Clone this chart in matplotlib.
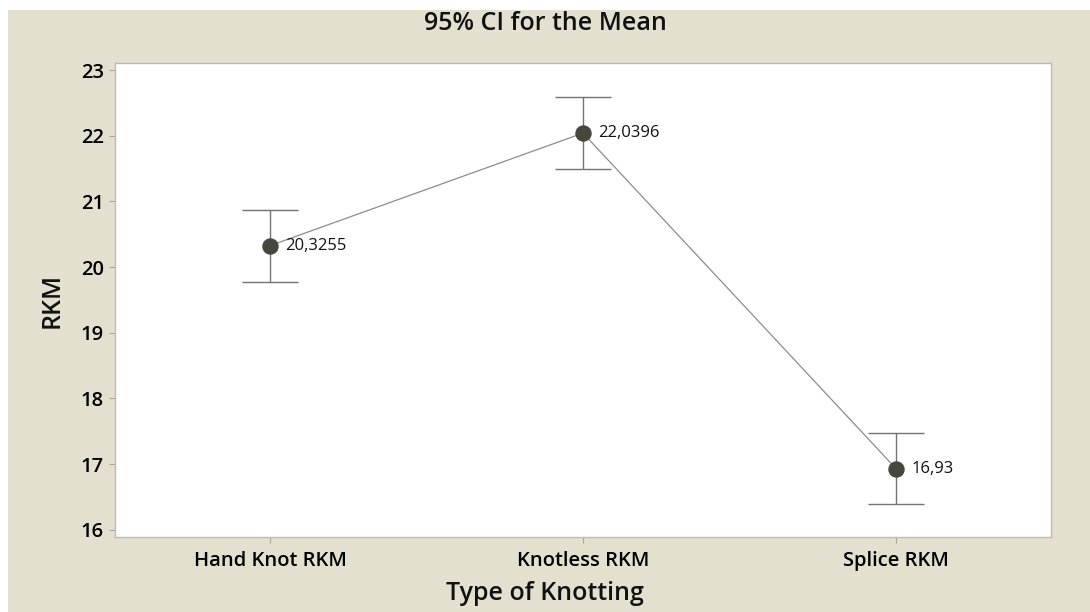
import matplotlib.pyplot as plt
from matplotlib.patches import Rectangle

# Mean RKM per knotting type with 95% confidence interval bounds
knot_types = ["Hand Knot RKM", "Knotless RKM", "Splice RKM"]
means = [20.3255, 22.0396, 16.93]
ci_lower = [19.78, 21.49, 16.385]
ci_upper = [20.87, 22.585, 17.475]
mean_labels = ["20,3255", "22,0396", "16,93"]
y_ticks = [16, 17, 18, 19, 20, 21, 22, 23]

plt.rcParams['font.family'] = ['Open Sans', 'DejaVu Sans']

fig = plt.figure(figsize=(10.9, 6.12), dpi=100, facecolor='white')
fig.patches.append(Rectangle((8 / 1090, 0), 1 - 8 / 1090, 1 - 10 / 612,
                             transform=fig.transFigure, facecolor='#E3E0CF',
                             edgecolor='none', zorder=-5))

ax = fig.add_axes([115 / 1090, 75 / 612, 936 / 1090, 474 / 612])
ax.set_facecolor('white')

x = list(range(len(knot_types)))
err_low = [m - lo for m, lo in zip(means, ci_lower)]
err_high = [hi - m for m, hi in zip(means, ci_upper)]

ax.plot(x, means, color='#8c8c8c', linewidth=0.9, zorder=2)
ax.errorbar(x, means, yerr=[err_low, err_high], fmt='none', ecolor='#737373',
            elinewidth=1.0, capsize=20, capthick=1.0, zorder=3)
ax.scatter(x, means, s=117, color='#47463f', zorder=4)

for xi, m, lab in zip(x, means, mean_labels):
    ax.annotate(lab, (xi, m), xytext=(11, 0), textcoords='offset points',
                va='center', ha='left', fontsize=12, color='#111111')

ax.set_xlim(-0.495, 2.495)
ax.set_ylim(15.89, 23.107)
ax.set_xticks(x)
ax.set_xticklabels(knot_types, fontsize=14.5, fontweight='semibold')
ax.set_yticks(y_ticks)
ax.set_yticklabels([str(t) for t in y_ticks], fontsize=14.5, fontweight='semibold')
ax.tick_params(axis='both', direction='out', length=4, width=0.8,
               color='#a8a8a0', pad=4)
ax.tick_params(axis='x', pad=6)

for spine in ax.spines.values():
    spine.set_color('#bdbcb3')
    spine.set_linewidth(1.0)

fig.text(0.5, 1 - 24 / 612, "95% CI for the Mean", ha='center', va='center',
         fontsize=18, fontweight='semibold', color='#111111')
fig.text(0.5, 1 - 594 / 612, "Type of Knotting", ha='center', va='center',
         fontsize=18, fontweight='semibold', color='#111111')
fig.text(52 / 1090, 1 - 300 / 612, "RKM", ha='center', va='center',
         rotation=90, fontsize=18, fontweight='semibold', color='#111111')

fig.savefig("out.png", dpi=100)
